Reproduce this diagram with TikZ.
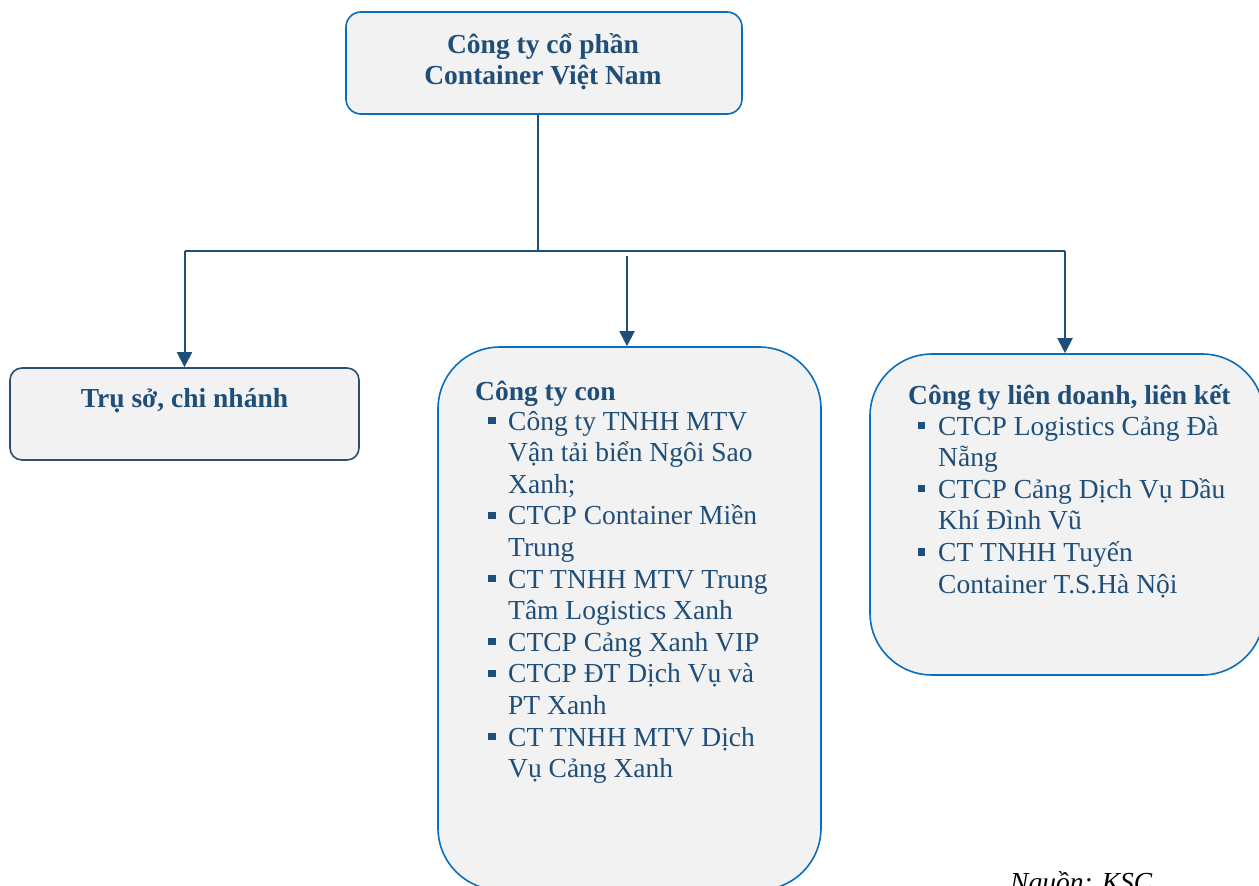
\documentclass[tikz,border=0pt]{standalone}
\usepackage{fontspec}
\setmainfont{Liberation Serif}
\usetikzlibrary{arrows.meta}
\definecolor{txt}{HTML}{1F4E79}
\definecolor{bord}{HTML}{0A6EBD}
\definecolor{bordL}{HTML}{2B4F73}
\definecolor{boxfill}{HTML}{F2F2F2}
\definecolor{conncol}{HTML}{1F4E79}
\begin{document}
\begin{tikzpicture}[x=1pt,y=-1pt,
  box/.style={draw=bord, line width=1.6pt, fill=boxfill, inner sep=0pt},
  conn/.style={draw=conncol, line width=2pt},
  arr/.style={conn, -{Triangle[width=15pt,length=15pt]}},
  lbl/.style={text=txt, font=\fontsize{27.5}{31.6}\selectfont, anchor=base west, inner sep=0pt},
  blbl/.style={lbl, font=\fontsize{27.5}{31.6}\selectfont\bfseries},
  bul/.style={fill=txt, minimum size=7.5pt, inner sep=0pt}
]
\useasboundingbox (0,0) rectangle (1259,886);
\clip (0,0) rectangle (1259,886);

% boxes
\node[box, rounded corners=15pt, minimum width=396pt, minimum height=102pt] (top) at (544,63) {};
\node[box, draw=bordL, rounded corners=12pt, minimum width=349pt, minimum height=92pt] (left) at (184.5,414) {};
\node[box, rounded corners=62pt, minimum width=383pt, minimum height=543pt] (mid) at (629.5,618.5) {};
\node[box, rounded corners=62pt, minimum width=394pt, minimum height=321pt] (right) at (1067,514.5) {};

% top text
\node[blbl, anchor=base] (t1) at (543,53) {Công ty cổ phần};
\node[blbl, anchor=base] (t2) at (543,84) {Container Việt Nam};

% left text
\node[blbl, anchor=base] (l1) at (184.5,407) {Trụ sở, chi nhánh};

% connectors
\coordinate (j) at (538,251);
\coordinate (jl) at (184.5,251);
\coordinate (jr) at (1065,251);
\coordinate (ms) at (627,256);
\draw[conn] ([xshift=-6pt]top.south) -- (j);
\draw[conn] (jl) -- (jr);
\draw[arr] (jl) -- (left.north);
\draw[arr] (ms) -- (ms |- mid.north);
\draw[arr] (jr) -- (jr |- right.north);

% middle box text
\node[blbl] (mh) at (475,400) {Công ty con};
\foreach \t [count=\i] in {Công ty TNHH MTV, Vận tải biển Ngôi Sao, Xanh;, CTCP Container Miền, Trung, CT TNHH MTV Trung, Tâm Logistics Xanh, CTCP Cảng Xanh VIP, CTCP ĐT Dịch Vụ và, PT Xanh, CT TNHH MTV Dịch, Vụ Cảng Xanh}
  \node[lbl] (m\i) at (508,{430+31.6*(\i-1)}) {\t};
\foreach \i in {1,4,6,8,9,11}
  \node[bul] (mb\i) at (492,{430+31.6*(\i-1)-9.5}) {};

% right box text
\node[blbl] (rh) at (908,404) {Công ty liên doanh, liên kết};
\foreach \t [count=\i] in {CTCP Logistics Cảng Đà, Nẵng, CTCP Cảng Dịch Vụ Dầu, Khí Đình Vũ, CT TNHH Tuyến, Container T.S.Hà Nội}
  \node[lbl] (r\i) at (938,{435+31.6*(\i-1)}) {\t};
\foreach \i in {1,3,5}
  \node[bul] (rb\i) at (921.5,{435+31.6*(\i-1)-9.5}) {};

% source
\node[lbl, text=black, font=\fontsize{27.5}{31.6}\selectfont\itshape] (src) at (1010,891) {Nguồn: KSC};
\end{tikzpicture}
\end{document}
